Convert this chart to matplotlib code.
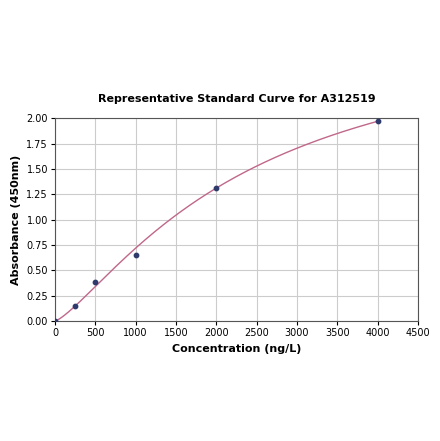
import numpy as np
import matplotlib
matplotlib.use("Agg")
import matplotlib.pyplot as plt

conc = [0, 250, 500, 1000, 2000, 4000]
absorb = [0.0, 0.145, 0.385, 0.65, 1.31, 1.97]
# 4PL fit parameters (a, b, c, d)
fit_a, fit_b, fit_c, fit_d = 0.0, 1.3, 2430.0, 3.0

fig = plt.figure(figsize=(4.40, 4.41), dpi=100)
ax = fig.add_axes([0.125, 0.272, 0.825, 0.460])

xs = np.linspace(0, 4000, 400)
ys = fit_d + (fit_a - fit_d) / (1 + (np.maximum(xs, 1e-9) / fit_c) ** fit_b)
ax.plot(xs, ys, color="#c0678a", lw=1.0, zorder=2)
ax.scatter(conc, absorb, s=10, color="#2e3a6b", zorder=3)

ax.set_xlim(0, 4500)
ax.set_ylim(0, 2.0)
ax.set_xticks(np.arange(0, 4501, 500))
ax.set_yticks(np.arange(0, 2.01, 0.25))
ax.set_yticklabels([f"{v:.2f}" for v in np.arange(0, 2.01, 0.25)])
ax.tick_params(labelsize=7, length=3, pad=2)
ax.grid(True, color="#cccccc", lw=0.8)
ax.set_axisbelow(True)
for s in ax.spines.values():
    s.set_color("#555555")
    s.set_linewidth(0.8)

ax.set_xlabel("Concentration (ng/L)", fontsize=8, fontweight="bold", labelpad=4)
ax.set_ylabel("Absorbance (450nm)", fontsize=8, fontweight="bold", labelpad=4)
ax.set_title("Representative Standard Curve for A312519", fontsize=8, fontweight="bold", pad=12)

fig.savefig("out.png", dpi=100)
